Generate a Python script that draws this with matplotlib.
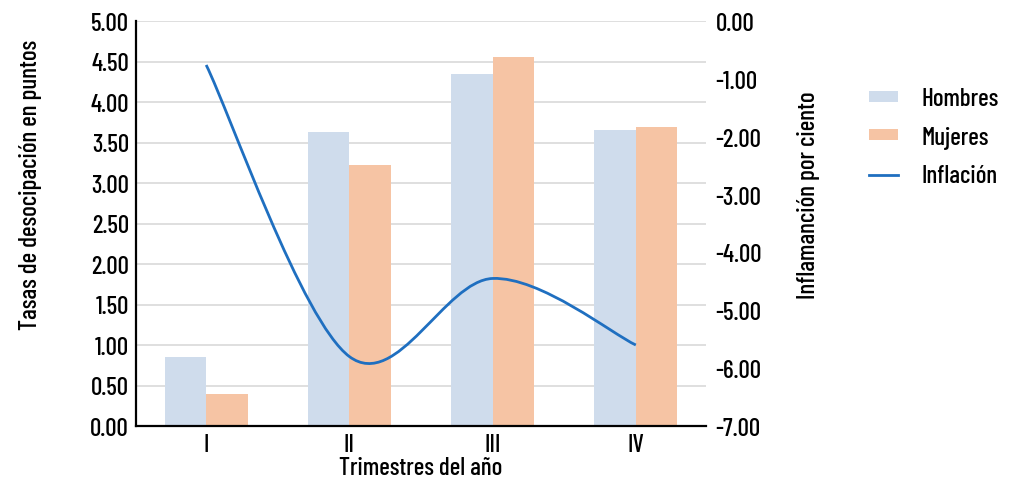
import matplotlib
matplotlib.use("Agg")
import matplotlib.pyplot as plt
import numpy as np
from matplotlib.path import Path
from matplotlib.patches import PathPatch, Patch
from matplotlib.lines import Line2D
from matplotlib import font_manager

# data
trimestres = ["I", "II", "III", "IV"]
hombres = [0.85, 3.63, 4.35, 3.65]
mujeres = [0.40, 3.22, 4.55, 3.69]
inflacion = [-0.76, -5.80, -4.45, -5.60]

names = {f.name for f in font_manager.fontManager.ttflist}
candidates = ["Barlow Condensed", "Roboto Condensed", "Fira Sans Condensed"]
narrow = next((c for c in candidates if c in names), None)
plt.rcParams["font.family"] = ([narrow] if narrow else []) + ["DejaVu Sans"]
plt.rcParams["font.weight"] = "medium"
plt.rcParams["axes.labelweight"] = "medium"
plt.rcParams["axes.unicode_minus"] = False

C_H = "#cfdcec"
C_M = "#f6c4a4"
C_L = "#1f6fc0"
FS = 18

fig = plt.figure(figsize=(10.19, 4.81), dpi=100)
W, H = 1019, 481
ax = fig.add_axes([136 / W, 1 - 427 / H, (706 - 136) / W, (427 - 22) / H])
ax2 = ax.twinx()

x = np.arange(len(trimestres))
bw = 0.29
ax.bar(x - bw / 2, hombres, bw, color=C_H, zorder=2)
ax.bar(x + bw / 2, mujeres, bw, color=C_M, zorder=2)

ax.set_xlim(-0.49, 3.49)
ax.set_ylim(0, 5)
ax.set_yticks(np.arange(0, 5.01, 0.5))
ax.set_yticklabels([f"{v:.2f}" for v in np.arange(0, 5.01, 0.5)])
ax.set_xticks(x)
ax.set_xticklabels(trimestres)
ax.grid(axis="y", color="#d9d9d9", lw=1.2)
ax.set_axisbelow(True)
ax.tick_params(axis="both", length=0, labelsize=FS, pad=5)
for s in ["top", "right"]:
    ax.spines[s].set_visible(False)
ax.spines["left"].set_linewidth(1.6)
ax.spines["bottom"].set_linewidth(1.6)
ax.set_xlabel("Trimestres del año", fontsize=FS, labelpad=0)
ax.set_ylabel("Tasas de desocipación en puntos", fontsize=FS)
ax.yaxis.set_label_coords(-0.165, 0.597)

# smoothed line (cubic Bezier through the points)
pts = np.column_stack([x, inflacion]).astype(float)
verts = [pts[0]]
codes = [Path.MOVETO]
n = len(pts)
for i in range(n - 1):
    p0 = pts[max(i - 1, 0)]
    p1 = pts[i]
    p2 = pts[i + 1]
    p3 = pts[min(i + 2, n - 1)]
    verts += [p1 + (p2 - p0) / 6, p2 - (p3 - p1) / 6, p2]
    codes += [Path.CURVE4] * 3
ax2.add_patch(PathPatch(Path(verts, codes), fill=False, edgecolor=C_L, lw=2, zorder=3))

ax2.set_ylim(-7, 0)
ax2.set_yticks(np.arange(-7, 0.01, 1))
ax2.set_yticklabels([f"{v:.2f}" for v in np.arange(-7, 0.01, 1)])
ax2.tick_params(axis="y", length=0, labelsize=FS, pad=7)
for s in ax2.spines.values():
    s.set_visible(False)
ax2.set_ylabel("Inflamanción por ciento", fontsize=FS)
ax2.yaxis.set_label_coords(1.16, 0.573)

handles = [
    Patch(facecolor=C_H, edgecolor="none"),
    Patch(facecolor=C_M, edgecolor="none"),
    Line2D([], [], color=C_L, lw=2),
]
fig.legend(handles, ["Hombres", "Mujeres", "Inflación"], loc="upper left",
           bbox_to_anchor=(869 / W, 1 - 88 / H), frameon=False, fontsize=FS,
           borderpad=0, borderaxespad=0,
           handlelength=1.15, handleheight=0.3, handletextpad=0.95, labelspacing=0.62)

fig.savefig("out.png", dpi=100)
